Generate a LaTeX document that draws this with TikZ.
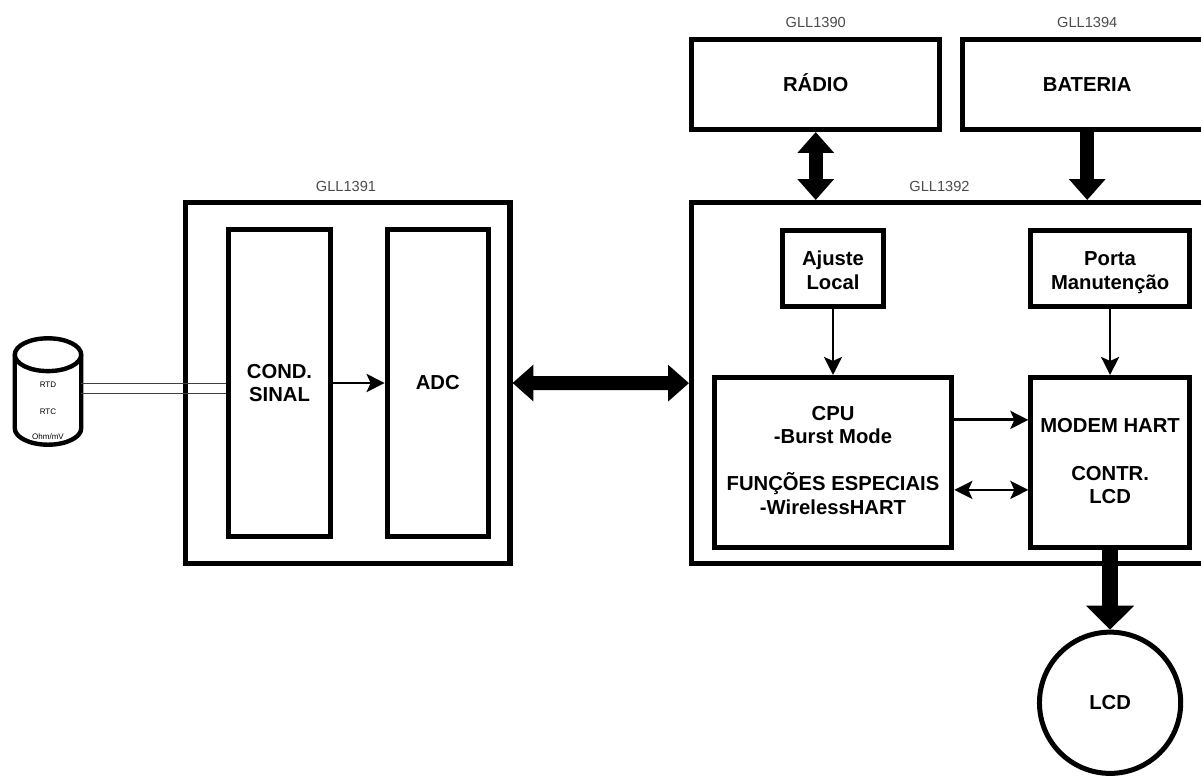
\documentclass[tikz,border=0pt]{standalone}
\usepackage{fontspec}
\setmainfont{Liberation Sans}
\usetikzlibrary{arrows.meta, positioning}
\tikzset{
    box/.style={rectangle, draw=black, line width=0.125cm, inner sep=0pt, align=center, font=\fontsize{14.4}{16.8}\selectfont\bfseries},
    ref/.style={font=\fontsize{10.4}{12}\selectfont, text=black!70, inner sep=0pt},
    sensor/.style={font=\fontsize{5.7}{7}\selectfont, inner sep=0pt},
    arrow/.style={-{Stealth[length=0.45cm, width=0.45cm, inset=0.1cm]}, line width=0.07cm},
    bothways/.style={{Stealth[length=0.45cm, width=0.45cm, inset=0.1cm]}-{Stealth[length=0.45cm, width=0.45cm, inset=0.1cm]}, line width=0.07cm},
    bus/.style={-{Triangle[length=0.52cm, width=0.88cm]}, line width=0.35cm},
    busboth/.style={{Triangle[length=0.52cm, width=0.88cm]}-{Triangle[length=0.52cm, width=0.88cm]}, line width=0.35cm},
    wire/.style={line width=0.025cm, draw=black!75},
    tank/.style={draw=black, line width=0.11cm}
}
\begin{document}
\begin{tikzpicture}[x=0.025cm, y=-0.025cm]
        \clip (0,0) rectangle (1201,776);

        \node[box, minimum width=6.21cm, minimum height=2.25cm, anchor=north west, text height=10.4pt, text depth=0pt] (radio) at (689,37) {RÁDIO};
        \node[box, right=0.45cm of radio, minimum width=6.21cm, minimum height=2.25cm, text height=10.4pt, text depth=0pt] (bateria) {BATERIA};
        \node[box, minimum width=8.11cm, minimum height=9.03cm] (sig) at (347.75,383) {};
        \node[box, minimum width=12.81cm, minimum height=9.03cm, anchor=north west] (sys) at (689,200) {};

        \node[box, minimum width=2.53cm, minimum height=7.65cm] (cond) at (279.5,383) {COND.\\SINAL};
        \node[box, right=1.3cm of cond, minimum width=2.53cm, minimum height=7.65cm] (adc) {ADC};

        \node[box, minimum width=2.54cm, minimum height=1.89cm, text height=30pt, text depth=0pt] (ajuste) at (833,268.25) {Ajuste\\Local};
        \node[box, right=3.54cm of ajuste, minimum width=3.98cm, minimum height=1.89cm, text height=30pt, text depth=0pt] (porta) {Porta\\Manutenção};
        \node[box, below=1.66cm of ajuste, minimum width=5.94cm, minimum height=4.24cm, text depth=3pt] (cpu) {CPU\\-Burst Mode\\[16.8pt]FUNÇÕES ESPECIAIS\\-WirelessHART};
        \node[box, below=1.66cm of porta, minimum width=3.96cm, minimum height=4.24cm, text depth=1.5pt] (modem) {MODEM HART\\[16.8pt]CONTR.\\LCD};
        \node[box, circle, below=2cm of modem, minimum size=3.53cm] (lcd) {LCD};

        % sensor body
        \node[minimum width=1.66cm, minimum height=2.66cm, inner sep=0pt, outer sep=0pt] (cyl) at (48,391.5) {};
        \draw[tank] ([yshift=-0.41cm]cyl.north west) arc[start angle=180, end angle=0, x radius=0.83cm, y radius=0.41cm]
            -- ([yshift=0.41cm]cyl.south east) arc[start angle=0, end angle=-180, x radius=0.83cm, y radius=0.41cm] -- cycle;
        \draw[tank] ([yshift=-0.41cm]cyl.north west) arc[start angle=180, end angle=360, x radius=0.83cm, y radius=0.41cm];
        \node[sensor] (rtd) at (48,385) {RTD};
        \node[sensor, below=0.51cm of rtd] (rtc) {RTC};
        \node[sensor, below=0.46cm of rtc] (ohm) {Ohm/mV};

        \node[ref, above=0.22cm of radio] (gllradio) {GLL1390};
        \node[ref, above=0.22cm of bateria] (gllbat) {GLL1394};
        \node[ref] (gllsig) at (346,186) {GLL1391};
        \node[ref] (gllsys) at (939.5,186) {GLL1392};

        \draw[wire] ([yshift=0.21cm]cyl.east) -- ([yshift=0.21cm]cond.west |- cyl.east);
        \draw[wire] ([yshift=-0.06cm]cyl.east) -- ([yshift=-0.06cm]cond.west |- cyl.east);

        \draw[arrow] (cond.east) -- (adc.west);
        \draw[arrow] (ajuste) -- (cpu);
        \draw[arrow] (porta) -- (modem);
        \draw[arrow] ([yshift=1.06cm]cpu.east) -- ([yshift=1.06cm]modem.west);
        \draw[bothways] ([yshift=-0.69cm]cpu.east) -- ([yshift=-0.69cm]modem.west);

        \draw[busboth] (radio.south) -- (radio.south |- sys.north);
        \draw[bus] (bateria.south) -- (bateria.south |- sys.north);
        \draw[busboth] (sig.east) -- (sys.west);
        \draw[bus, line width=0.42cm, -{Triangle[length=0.6cm, width=1.17cm]}] (modem) -- (lcd);
    \end{tikzpicture}
\end{document}
